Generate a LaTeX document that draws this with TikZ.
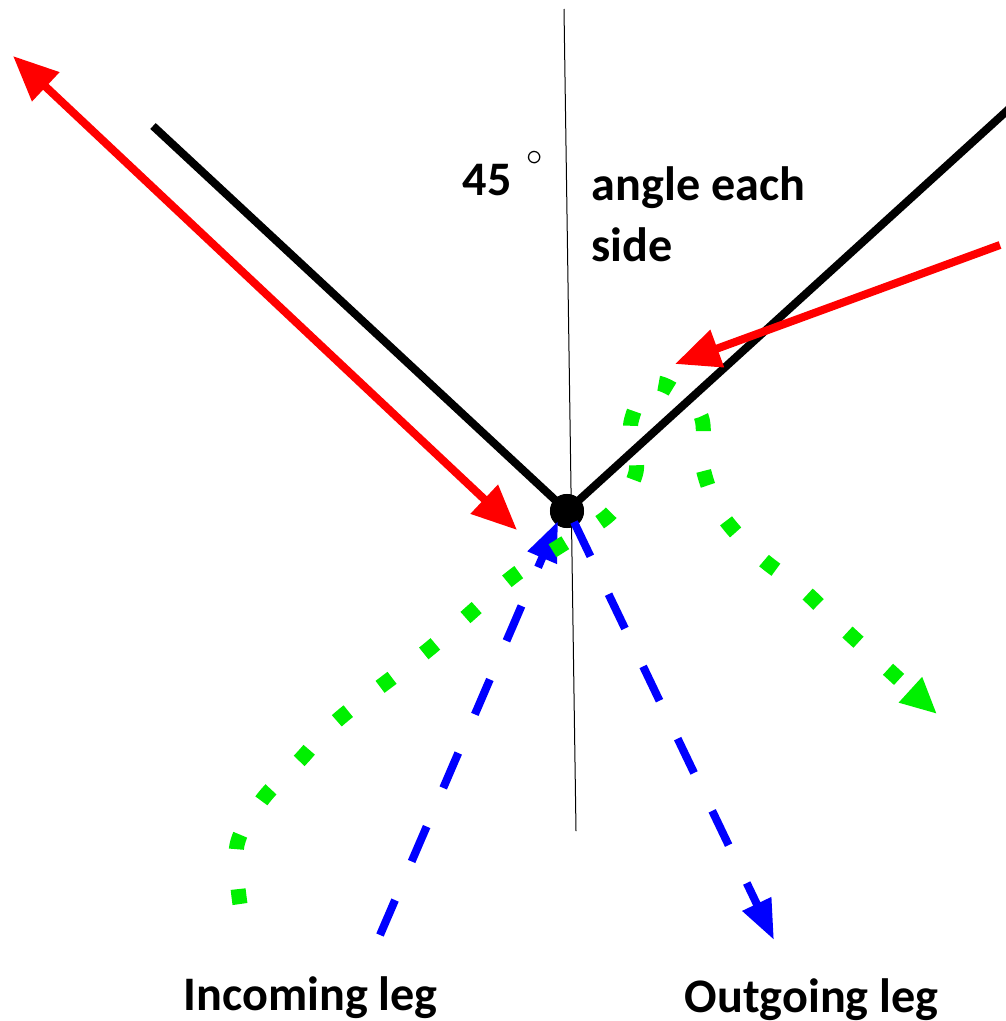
\documentclass[tikz,border=0pt]{standalone}
\usepackage{fontspec}
\setmainfont{Carlito}
\usetikzlibrary{positioning,arrows.meta,calc}
\definecolor{trackgreen}{RGB}{0,240,0}

\begin{document}
\begin{tikzpicture}[
    x=0.01cm, y=-0.01cm,
    font=\fontsize{13.7}{16}\selectfont\bfseries,
    arm/.style={line width=0.08cm, black},
    ray/.style={line width=0.08cm, red, -{Triangle[length=0.45cm, width=0.38cm]}},
    leg/.style={line width=0.08cm, blue, dash pattern=on 0.38cm off 0.42cm,
                -{Triangle[length=0.4cm, width=0.3cm]}},
    track/.style={line width=0.15cm, trackgreen, dash pattern=on 0.15cm off 0.40cm,
                  -{Triangle[length=0.36cm, width=0.32cm]}},
    label/.style={anchor=base west, inner sep=0pt},
  ]
  \useasboundingbox (0,0) rectangle (1005,1021);

  % --- axis and mirror ---
  \coordinate (axisTop) at (564,9);
  \coordinate (axisBot) at (576,831);
  \draw[black, line width=0.01cm] (axisTop) -- (axisBot);

  \node[circle, fill=black, inner sep=0pt, minimum size=0.34cm] (hub) at (567,511) {};
  \coordinate (armL) at (153,126);
  \coordinate (armR) at (1010,108);
  \draw[arm] (armL) -- (hub.center) -- (armR);
  \node[circle, fill=black, inner sep=0pt, minimum size=0.34cm] at (hub) {};

  % --- red rays ---
  \coordinate (redA) at (517,530);
  \coordinate (redB) at (13,56);
  \coordinate (redC) at (1000,245);
  \coordinate (redD) at (675,364);
  \draw[ray, {Triangle[length=0.45cm, width=0.38cm]}-{Triangle[length=0.45cm, width=0.38cm]}]
    (redA) -- (redB);
  \draw[ray] (redC) -- (redD);

  % --- blue legs ---
  \coordinate (inStart) at (380,935);
  \coordinate (inEnd) at (558,521);
  \coordinate (outStart) at (574,522);
  \coordinate (outEnd) at (774,940);
  \draw[leg] (inStart) -- (inEnd);
  \draw[leg] (outStart) -- (outEnd);

  % --- green track ---
  \draw[track] plot[smooth, tension=0.55] coordinates {
    (240,904) (237,845) (262,800) (300,760) (340,718) (428,650) (511,578)
    (560,546) (610,514) (636,472) (631,422) (655,383) (700,414) (703,468)
    (722,515) (760,557) (803,590) (843,628) (937,714)};

  % --- labels ---
  \node[label] (deg) at (462,195) {45};
  \node[inner sep=0pt, font=\small] (degsym) at (535,158) {$\circ$};
  \node[label] (ang1) at (591,200) {angle each};
  \node[label] (ang2) at (591,261) {side};
  \node[label] (inleg) at (183,1010) {Incoming leg};
  \node[label] (outleg) at (684,1012) {Outgoing leg};
\end{tikzpicture}
\end{document}
